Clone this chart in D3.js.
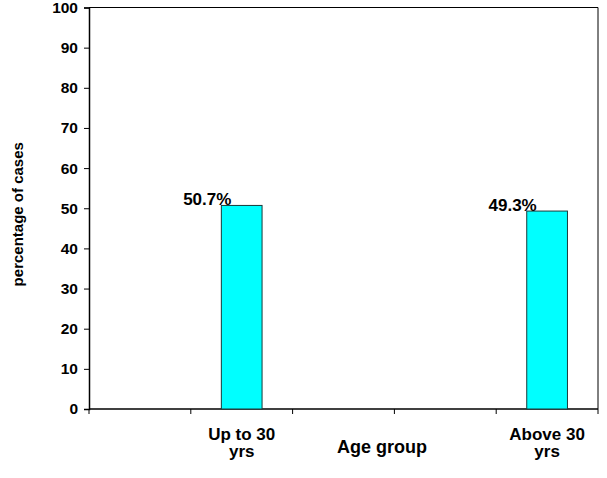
<!DOCTYPE html>
<html lang="en">
<head>
<meta charset="UTF-8">
<title>Age group</title>
<script src="https://d3js.org/d3.v7.min.js"></script>
<style>
  body { margin: 0; background: #fff; }
  text { font-family: "Liberation Sans", Arial, sans-serif; font-weight: bold; fill: #000; }
</style>
</head>
<body>
<div id="chart"></div>
<script>
// five category slots, only two carry data
const categories = ["", "Up to 30 yrs", "", "", "Above 30 yrs"];
const values = [null, 50.7, null, null, 49.3];
const valueLabels = [null, "50.7%", null, null, "49.3%"];
const yTicks = [0, 10, 20, 30, 40, 50, 60, 70, 80, 90, 100];

const width = 607, height = 478;
const margin = {top: 7.5, right: 9, bottom: 69, left: 89};

const svg = d3.select('#chart').append('svg')
    .attr('width', width)
    .attr('height', height);

const x = d3.scaleBand()
    .domain(d3.range(categories.length))
    .range([margin.left, width - margin.right])
    .paddingInner(0).paddingOuter(0);

const y = d3.scaleLinear()
    .domain([0, 100])
    .range([height - margin.bottom, margin.top]);

// frame (top and right)
svg.append('path')
    .attr('d', `M${x.range()[0]},${y(100)}H${x.range()[1]}V${y(0)}`)
    .attr('fill', 'none')
    .attr('stroke', '#000')
    .attr('stroke-width', 1);

// y axis
const yAxis = svg.append('g')
    .attr('transform', `translate(${margin.left},0)`)
    .call(d3.axisLeft(y).tickValues(yTicks).tickSize(5).tickPadding(6));
yAxis.select('.domain').attr('stroke', '#000').attr('stroke-width', 1.5);
yAxis.selectAll('.tick line').attr('stroke', '#000');
yAxis.selectAll('.tick text')
    .style('font-size', '15.5px')
    .style('font-family', '"Liberation Sans", Arial, sans-serif')
    .style('font-weight', 'bold')
    .attr('fill', '#000');

// x axis: ticks at slot boundaries
const xg = svg.append('g');
xg.append('line')
    .attr('x1', x.range()[0]).attr('x2', x.range()[1])
    .attr('y1', y(0)).attr('y2', y(0))
    .attr('stroke', '#000').attr('stroke-width', 1.5);
const bounds = d3.range(categories.length + 1).map(i => x.range()[0] + i * x.step());
xg.selectAll('line.tick')
    .data(bounds)
    .enter().append('line')
    .attr('class', 'tick')
    .attr('x1', d => d).attr('x2', d => d)
    .attr('y1', y(0)).attr('y2', y(0) + 5)
    .attr('stroke', '#000');

// category labels (wrapped)
const lab = xg.selectAll('text.cat')
    .data(categories.map((c, i) => ({c, i})).filter(d => d.c))
    .enter().append('text')
    .attr('class', 'cat')
    .attr('text-anchor', 'middle')
    .style('font-size', '17px');
lab.each(function(d) {
    const words = d.c.split(' ');
    const lines = [words.slice(0, -1).join(' '), words[words.length - 1]];
    const cx = x(d.i) + x.bandwidth() / 2;
    d3.select(this).selectAll('tspan')
        .data(lines)
        .enter().append('tspan')
        .attr('x', cx)
        .attr('y', (l, k) => y(0) + 31 + k * 17)
        .text(l => l);
});

// bars
const barW = x.bandwidth() * 0.4;
svg.selectAll('rect.bar')
    .data(values.map((v, i) => ({v, i})).filter(d => d.v != null))
    .enter().append('rect')
    .attr('class', 'bar')
    .attr('x', d => x(d.i) + (x.bandwidth() - barW) / 2)
    .attr('y', d => y(d.v))
    .attr('width', barW)
    .attr('height', d => y(0) - y(d.v))
    .attr('fill', '#00ffff')
    .attr('stroke', '#1a3a3a')
    .attr('stroke-width', 1);

// value labels
svg.selectAll('text.val')
    .data(values.map((v, i) => ({v, i})).filter(d => d.v != null))
    .enter().append('text')
    .attr('class', 'val')
    .attr('text-anchor', 'end')
    .attr('x', d => x(d.i) + (x.bandwidth() - barW) / 2 + 10)
    .attr('y', d => y(d.v))
    .style('font-size', '17px')
    .text(d => valueLabels[d.i]);

// axis titles
svg.append('text')
    .attr('x', 382)
    .attr('y', y(0) + 44)
    .attr('text-anchor', 'middle')
    .style('font-size', '18px')
    .text('Age group');

svg.append('text')
    .attr('transform', `translate(23,${(margin.top + y(0)) / 2 + 6}) rotate(-90)`)
    .attr('text-anchor', 'middle')
    .style('font-size', '15px')
    .text('percentage of cases');
</script>
</body>
</html>
